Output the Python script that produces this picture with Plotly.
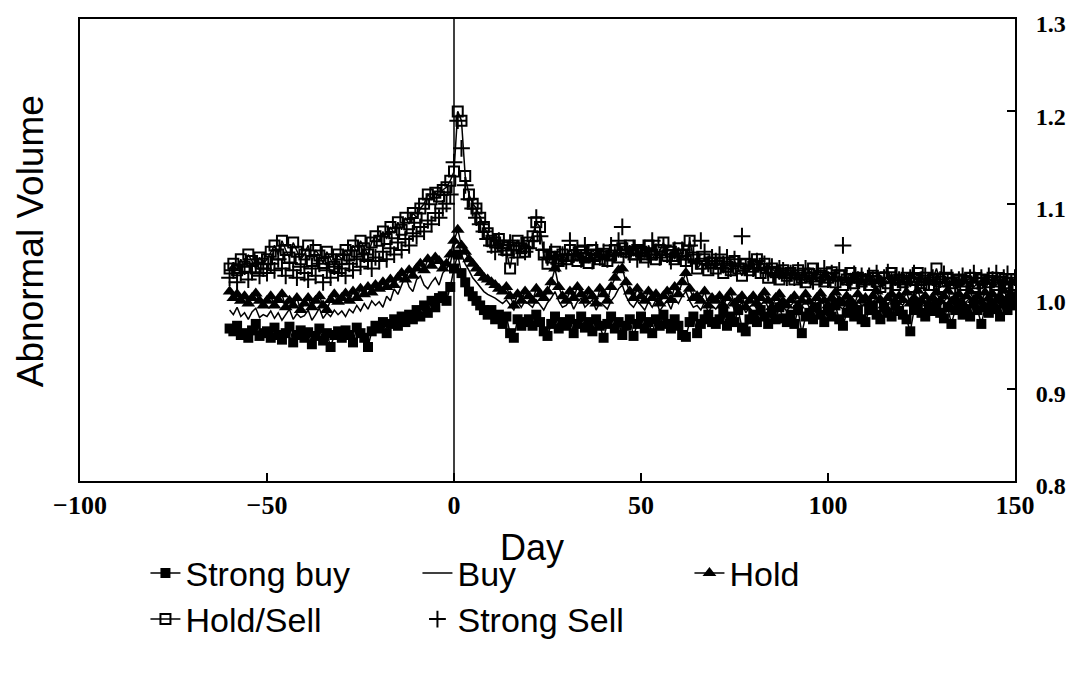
import plotly.graph_objects as go

days = list(range(-60, 151))

strong_buy = [
    0.965, 0.962, 0.968, 0.958, 0.960, 0.955, 0.963, 0.970, 0.957, 0.960,
    0.962, 0.955, 0.966, 0.958, 0.953, 0.960, 0.967, 0.950, 0.958, 0.963,
    0.955, 0.961, 0.948, 0.957, 0.965, 0.952, 0.960, 0.945, 0.958, 0.962,
    0.955, 0.963, 0.958, 0.950, 0.966, 0.960, 0.955, 0.945, 0.962, 0.968,
    0.965, 0.972, 0.960, 0.970, 0.975, 0.968, 0.978, 0.972, 0.980, 0.975,
    0.985, 0.978, 0.990, 0.982, 0.995, 0.988, 0.998, 1.000, 0.995, 1.010,
    1.030, 1.045, 1.025, 1.015, 1.005, 1.000, 0.995, 0.990, 0.985, 0.980,
    0.985, 0.975, 0.980, 0.970, 0.978, 0.960, 0.955, 0.975, 0.968, 0.972,
    0.975, 0.968, 0.980, 0.972, 0.962, 0.957, 0.970, 0.978, 0.965, 0.972,
    0.968, 0.975, 0.960, 0.970, 0.978, 0.966, 0.972, 0.962, 0.975, 0.968,
    0.955, 0.970, 0.978, 0.965, 0.972, 0.958, 0.968, 0.975, 0.957, 0.970,
    0.978, 0.965, 0.972, 0.960, 0.975, 0.968, 0.980, 0.970, 0.965, 0.975,
    0.968, 0.958, 0.956, 0.972, 0.978, 0.960, 0.970, 0.975, 0.980, 0.972,
    0.970, 0.975, 0.982, 0.968, 0.978, 0.972, 0.985, 0.966, 0.962, 0.975,
    0.980, 0.972, 0.985, 0.978, 0.970, 0.982, 0.975, 0.988, 0.976, 0.972,
    0.980, 0.970, 0.985, 0.960, 0.978, 0.982, 0.975, 0.988, 0.980, 0.972,
    0.985, 0.978, 0.990, 0.975, 0.968, 0.982, 0.988, 0.978, 0.985, 0.975,
    0.972, 0.985, 0.990, 0.980, 0.975, 0.988, 0.982, 0.978, 0.990, 0.984,
    0.980, 0.975, 0.962, 0.985, 0.990, 0.982, 0.978, 0.988, 0.984, 0.990,
    0.982, 0.976, 0.988, 0.970, 0.985, 0.990, 0.980, 0.986, 0.978, 0.992,
    0.985, 0.970, 0.988, 0.982, 0.990, 0.986, 0.978, 0.992, 0.985, 0.990, 0.995,
]

buy = [
    0.985, 0.980, 0.988, 0.978, 0.982, 0.975, 0.983, 0.987, 0.977, 0.980,
    0.978, 0.984, 0.976, 0.982, 0.974, 0.980, 0.986, 0.975, 0.981, 0.977,
    0.979, 0.985, 0.974, 0.980, 0.987, 0.976, 0.982, 0.978, 0.985, 0.980,
    0.984, 0.978, 0.986, 0.982, 0.990, 0.984, 0.992, 0.986, 0.995, 0.990,
    0.994, 0.988, 1.000, 0.995, 1.008, 1.002, 1.012, 1.022, 1.010, 1.005,
    1.018, 1.022, 1.012, 1.008, 1.015, 1.020, 1.012, 1.025, 1.030, 1.035,
    1.055, 1.060, 1.045, 1.035, 1.028, 1.020, 1.015, 1.010, 1.005, 1.002,
    1.000, 0.998, 0.995, 0.992, 0.996, 0.990, 0.985, 0.994, 0.988, 0.995,
    0.992, 0.988, 0.996, 0.990, 0.985, 0.993, 0.998, 1.005, 0.995, 0.988,
    0.990, 0.996, 0.986, 0.994, 0.998, 0.988, 0.992, 0.996, 0.985, 0.993,
    0.990, 0.986, 0.995, 1.000, 1.008, 1.012, 1.000, 0.992, 0.988, 0.995,
    0.990, 0.985, 0.994, 0.988, 0.996, 0.984, 0.990, 0.995, 0.986, 0.998,
    0.992, 1.000, 1.005, 0.995, 0.988, 0.990, 0.985, 0.994, 0.982, 0.990,
    0.986, 0.992, 0.984, 0.990, 0.995, 0.985, 0.989, 0.993, 0.982, 0.988,
    0.992, 0.986, 0.990, 0.996, 0.988, 0.982, 0.990, 0.995, 0.988, 0.984,
    0.990, 0.994, 0.985, 0.989, 0.996, 0.988, 0.983, 0.992, 0.996, 0.990,
    0.985, 0.992, 0.997, 0.989, 0.986, 0.994, 0.990, 0.985, 0.995, 0.990,
    0.992, 0.987, 0.994, 0.998, 0.990, 0.985, 0.992, 0.996, 0.989, 0.994,
    0.990, 0.997, 0.987, 0.992, 0.999, 0.990, 0.994, 0.987, 0.992, 0.998,
    0.990, 0.994, 0.999, 0.989, 0.992, 0.996, 0.988, 0.994, 0.998, 0.991,
    0.994, 0.989, 0.997, 0.992, 0.996, 0.990, 0.994, 0.999, 0.992, 0.996, 0.995,
]

hold = [
    1.005, 0.998, 1.002, 0.995, 1.000, 0.992, 0.998, 1.003, 0.995, 0.990,
    0.995, 1.000, 0.990, 0.996, 1.002, 0.988, 0.995, 0.990, 0.998, 0.985,
    0.992, 0.998, 0.988, 0.995, 1.000, 0.990, 0.985, 0.996, 1.002, 0.994,
    0.998, 1.003, 0.995, 1.005, 0.998, 1.008, 1.002, 1.010, 1.004, 1.012,
    1.008, 1.015, 1.010, 1.018, 1.012, 1.020, 1.025, 1.018, 1.028, 1.022,
    1.030, 1.035, 1.028, 1.040, 1.033, 1.042, 1.038, 1.030, 1.035, 1.045,
    1.060, 1.072, 1.055, 1.048, 1.040, 1.035, 1.030, 1.025, 1.020, 1.018,
    1.015, 1.012, 1.008, 1.005, 1.010, 1.000, 0.990, 1.002, 0.995, 1.005,
    1.000, 0.995, 1.008, 1.002, 0.998, 1.005, 1.015, 1.030, 1.010, 1.000,
    0.995, 1.005, 0.998, 1.010, 1.002, 0.995, 1.005, 1.000, 0.992, 1.008,
    1.002, 0.995, 1.010, 1.020, 1.028, 1.030, 1.015, 1.005, 0.998, 1.008,
    1.000, 0.995, 1.005, 0.998, 1.002, 0.992, 1.000, 1.005, 0.996, 1.010,
    1.002, 1.015, 1.025, 1.008, 0.998, 1.000, 0.995, 1.005, 0.990, 0.998,
    0.995, 1.000, 0.990, 0.998, 1.004, 0.992, 0.996, 1.000, 0.988, 0.995,
    1.000, 0.992, 0.998, 1.004, 0.995, 0.988, 0.998, 1.002, 0.994, 0.990,
    0.996, 1.000, 0.990, 0.995, 1.002, 0.994, 0.988, 0.998, 1.003, 0.995,
    0.990, 0.998, 1.004, 0.995, 0.992, 1.000, 0.996, 0.990, 1.002, 0.995,
    0.998, 0.992, 1.000, 1.005, 0.996, 0.990, 0.998, 1.002, 0.994, 1.000,
    0.996, 1.004, 0.992, 0.998, 1.006, 0.995, 1.000, 0.992, 0.998, 1.004,
    0.995, 1.000, 1.006, 0.994, 0.998, 1.002, 0.992, 1.000, 1.005, 0.996,
    1.000, 0.994, 1.004, 0.998, 1.002, 0.995, 1.000, 1.006, 0.998, 1.002, 1.000,
]

hold_sell = [
    1.030, 1.035, 1.028, 1.040, 1.032, 1.045, 1.038, 1.030, 1.042, 1.035,
    1.040, 1.048, 1.055, 1.045, 1.060, 1.050, 1.042, 1.058, 1.048, 1.040,
    1.045, 1.055, 1.038, 1.050, 1.044, 1.036, 1.048, 1.040, 1.032, 1.045,
    1.040, 1.050, 1.044, 1.055, 1.048, 1.060, 1.052, 1.045, 1.058, 1.065,
    1.060, 1.070, 1.062, 1.075, 1.068, 1.080, 1.072, 1.085, 1.078, 1.090,
    1.085, 1.095, 1.100, 1.110, 1.105, 1.112, 1.108, 1.115, 1.118, 1.125,
    1.135, 1.200, 1.190, 1.130, 1.110, 1.100, 1.095, 1.085, 1.075, 1.068,
    1.060, 1.058, 1.062, 1.055, 1.050, 1.030, 1.055, 1.060, 1.052, 1.048,
    1.058, 1.065, 1.080, 1.075, 1.045, 1.035, 1.042, 1.048, 1.038, 1.045,
    1.040, 1.050, 1.044, 1.038, 1.048, 1.042, 1.036, 1.050, 1.045, 1.040,
    1.046, 1.038, 1.044, 1.050, 1.042, 1.052, 1.048, 1.055, 1.045, 1.050,
    1.048, 1.042, 1.055, 1.045, 1.040, 1.050, 1.058, 1.044, 1.048, 1.040,
    1.052, 1.045, 1.038, 1.060, 1.042, 1.030, 1.035, 1.040, 1.028, 1.036,
    1.030, 1.035, 1.025, 1.032, 1.028, 1.038, 1.030, 1.022, 1.035, 1.028,
    1.032, 1.040, 1.025, 1.035, 1.020, 1.030, 1.026, 1.018, 1.028, 1.022,
    1.025, 1.018, 1.028, 1.020, 1.015, 1.024, 1.030, 1.018, 1.022, 1.016,
    1.020, 1.026, 1.015, 1.022, 1.012, 1.018, 1.025, 1.014, 1.020, 1.016,
    1.018, 1.012, 1.022, 1.016, 1.010, 1.020, 1.014, 1.025, 1.012, 1.018,
    1.015, 1.020, 1.010, 1.018, 1.025, 1.014, 1.020, 1.012, 1.018, 1.030,
    1.016, 1.010, 1.020, 1.014, 1.008, 1.018, 1.012, 1.016, 1.020, 1.010,
    1.014, 1.018, 1.008, 1.015, 1.020, 1.012, 1.016, 1.010, 1.014, 1.018, 1.012,
]

strong_sell = [
    1.020, 1.028, 1.015, 1.025, 1.032, 1.018, 1.026, 1.035, 1.022, 1.030,
    1.025, 1.035, 1.028, 1.040, 1.030, 1.022, 1.036, 1.028, 1.020, 1.032,
    1.025, 1.018, 1.030, 1.022, 1.035, 1.015, 1.028, 1.020, 1.032, 1.025,
    1.030, 1.022, 1.035, 1.028, 1.040, 1.032, 1.045, 1.038, 1.030, 1.042,
    1.038, 1.048, 1.040, 1.052, 1.045, 1.058, 1.050, 1.062, 1.055, 1.068,
    1.065, 1.075, 1.070, 1.082, 1.078, 1.090, 1.085, 1.095, 1.100, 1.110,
    1.145, 1.190, 1.160, 1.120, 1.105, 1.095, 1.085, 1.078, 1.070, 1.062,
    1.055, 1.048, 1.060, 1.052, 1.045, 1.058, 1.050, 1.042, 1.055, 1.048,
    1.052, 1.060, 1.085, 1.065, 1.050, 1.042, 1.048, 1.040, 1.035, 1.045,
    1.038, 1.060, 1.045, 1.050, 1.040, 1.055, 1.046, 1.038, 1.050, 1.042,
    1.048, 1.040, 1.055, 1.045, 1.060, 1.075, 1.050, 1.045, 1.052, 1.040,
    1.046, 1.052, 1.040, 1.060, 1.048, 1.042, 1.055, 1.045, 1.038, 1.050,
    1.044, 1.050, 1.040, 1.055, 1.045, 1.038, 1.060, 1.048, 1.035, 1.042,
    1.038, 1.045, 1.035, 1.042, 1.030, 1.040, 1.035, 1.065, 1.032, 1.040,
    1.030, 1.038, 1.028, 1.035, 1.025, 1.032, 1.022, 1.030, 1.028, 1.020,
    1.025, 1.020, 1.028, 1.018, 1.030, 1.022, 1.016, 1.026, 1.020, 1.030,
    1.018, 1.025, 1.020, 1.028, 1.055, 1.020, 1.015, 1.024, 1.018, 1.022,
    1.016, 1.022, 1.018, 1.025, 1.014, 1.020, 1.026, 1.015, 1.020, 1.018,
    1.022, 1.015, 1.020, 1.025, 1.012, 1.018, 1.022, 1.016, 1.020, 1.014,
    1.018, 1.024, 1.015, 1.020, 1.012, 1.018, 1.022, 1.015, 1.020, 1.025,
    1.016, 1.020, 1.014, 1.022, 1.018, 1.025, 1.015, 1.020, 1.024, 1.016, 1.020,
]

x_ticks = [-100, -50, 0, 50, 100, 150]
y_ticks = [0.8, 0.9, 1.0, 1.1, 1.2, 1.3]

SANS = "Liberation Sans, Arial, sans-serif"
SERIF = "Liberation Serif, Times New Roman, serif"

fig = go.Figure()

fig.add_trace(go.Scatter(
    x=days, y=strong_buy, name="Strong buy", mode="lines+markers",
    line=dict(color="black", width=1.5),
    marker=dict(symbol="square", size=10, color="black"),
    legend="legend",
))
fig.add_trace(go.Scatter(
    x=days, y=buy, name="Buy", mode="lines",
    line=dict(color="black", width=1.5),
    legend="legend",
))
fig.add_trace(go.Scatter(
    x=days, y=hold, name="Hold", mode="lines+markers",
    line=dict(color="black", width=1.5),
    marker=dict(symbol="triangle-up", size=12, color="black"),
    legend="legend",
))
fig.add_trace(go.Scatter(
    x=days, y=hold_sell, name="Hold/Sell", mode="lines+markers",
    line=dict(color="black", width=1.5),
    marker=dict(symbol="square-open", size=10, color="black", line=dict(width=2)),
    legend="legend2",
))
fig.add_trace(go.Scatter(
    x=days, y=strong_sell, name="Strong Sell", mode="markers",
    marker=dict(symbol="cross-thin-open", size=12, color="black", line=dict(width=2, color="black")),
    legend="legend2",
))

fig.add_shape(type="line", xref="x", yref="paper", x0=0, x1=0, y0=0, y1=1,
              line=dict(color="black", width=1.5))

fig.add_annotation(text="Abnormal Volume", xref="paper", yref="paper",
                   x=-0.053, y=0.52, xanchor="center", yanchor="middle",
                   textangle=-90, showarrow=False,
                   font=dict(family=SANS, size=37, color="black"))

fig.add_annotation(text="Day", xref="paper", yref="paper",
                   x=0.483, y=-0.145, xanchor="center", yanchor="middle",
                   showarrow=False,
                   font=dict(family=SANS, size=36, color="black"))

legend_common = dict(orientation="h", xanchor="left", yanchor="top",
                     font=dict(family=SANS, size=34, color="black"),
                     bgcolor="rgba(0,0,0,0)", entrywidth=227, entrywidthmode="pixels",
                     itemwidth=30, tracegroupgap=0)

fig.update_layout(
    width=1079, height=676,
    margin=dict(l=72, r=72, t=11, b=203, autoexpand=False),
    paper_bgcolor="white", plot_bgcolor="white",
    showlegend=True,
    legend=dict(x=0.07, y=-0.137, **legend_common),
    legend2=dict(x=0.07, y=-0.237, **legend_common),
    xaxis=dict(
        range=[-100, 150], tickvals=x_ticks, ticks="inside", ticklen=8, tickwidth=2,
        tickcolor="black", showgrid=False, zeroline=False,
        showline=True, linecolor="black", linewidth=2, mirror=True,
        tickfont=dict(family=SERIF, size=26, color="black", weight="bold"),
        ticklabeloverflow="allow", automargin=False,
    ),
    yaxis=dict(
        range=[0.8, 1.3], tickvals=y_ticks, tickformat=".1f", side="right",
        ticks="inside", ticklen=8, tickwidth=2, tickcolor="black",
        showgrid=False, zeroline=False,
        showline=True, linecolor="black", linewidth=2, mirror=True,
        tickfont=dict(family=SERIF, size=24, color="black", weight="bold"),
        ticklabelstandoff=14, ticklabelshift=5,
        ticklabeloverflow="allow", automargin=False,
    ),
)

fig.write_html("out.html")
